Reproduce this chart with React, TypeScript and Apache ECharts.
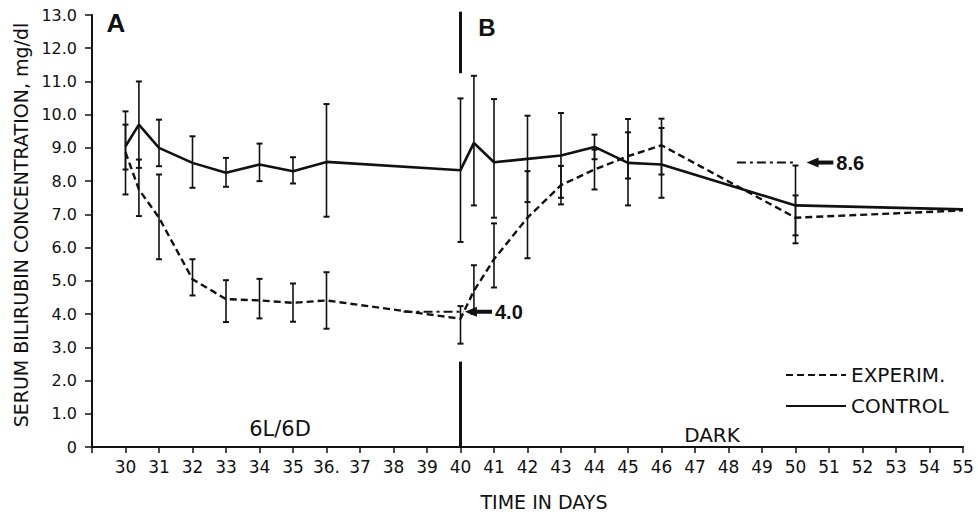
import React, { useEffect, useRef } from 'react';
import * as echarts from 'echarts';

// ---- data ----
const days = [30, 30.4, 31, 32, 33, 34, 35, 36, 40, 40.4, 41, 42, 43, 44, 45, 46, 50, 55];

const controlValues = [9.05, 9.7, 9.0, 8.55, 8.25, 8.5, 8.3, 8.58, 8.33, 9.15, 8.57, 8.67, 8.77, 9.03, 8.55, 8.5, 7.27, 7.15];
const controlLow = [8.35, 8.4, 8.45, 7.8, 7.83, 8.0, 7.93, 6.93, 6.17, 7.27, 6.9, 7.37, 7.5, 8.66, 7.27, 7.5, 6.13, null];
const controlHigh = [9.7, 11.0, 9.85, 9.35, 8.7, 9.13, 8.72, 10.32, 10.49, 11.17, 10.47, 9.97, 10.05, 9.4, 9.87, 9.88, 8.47, null];

const experimValues = [8.87, 7.75, 6.9, 5.05, 4.45, 4.41, 4.34, 4.41, 3.86, 4.7, 5.65, 6.9, 7.88, 8.35, 8.75, 9.08, 6.9, 7.12];
const experimLow = [7.6, 6.95, 5.65, 4.56, 3.76, 3.87, 3.77, 3.56, 3.11, 4.0, 4.8, 5.68, 7.3, 7.75, 8.08, 8.2, 6.37, null];
const experimHigh = [10.1, 8.65, 8.2, 5.65, 5.02, 5.06, 4.92, 5.26, 4.24, 5.47, 6.73, 8.3, 8.46, 8.95, 9.47, 9.6, 7.57, null];

const xTickDays = [30, 31, 32, 33, 34, 35, 36, 37, 38, 39, 40, 41, 42, 43, 44, 45, 46, 47, 48, 49, 50, 51, 52, 53, 54, 55];
const xTickLabels = ['30', '31', '32', '33', '34', '35', '36.', '37', '38', '39', '40', '41', '42', '43', '44', '45', '46', '47', '48', '49', '50', '51', '52', '53', '54', '55'];
const yTickValues = [0, 1, 2, 3, 4, 5, 6, 7, 8, 9, 10, 11, 12, 13];
const yTickLabels = ['0', '1.0', '2.0', '3.0', '4.0', '5.0', '6.0', '7.0', '8.0', '9.0', '10.0', '11.0', '12.0', '13.0'];

// callouts: dash-dot reference line and arrow pointing at a level
const calloutLabels = ['4.0', '8.6'];
const calloutLevels = [4.07, 8.56];
const calloutLineFrom = [38.3, 48.25];
const calloutLineTo = [40.1, 50.0];
const calloutArrowTip = [40.13, 50.33];
const calloutArrowTail = [40.94, 51.13];

// divider between phase A and phase B
const dividerDay = 40;
const dividerLow = [0, 11.25];
const dividerHigh = [2.57, 13.1];

const INK = '#111';
const FONT = '"DejaVu Sans", sans-serif';
const BOLD_FONT = '"Liberation Sans", Arial, sans-serif';

function errData(lo: (number | null)[], hi: (number | null)[]) {
  const out: number[][] = [];
  days.forEach((d, i) => {
    if (lo[i] != null && hi[i] != null) out.push([d, lo[i] as number, hi[i] as number]);
  });
  return out;
}

function renderErr(params: any, api: any) {
  const x = api.value(0);
  const a = api.coord([x, api.value(1)]);
  const b = api.coord([x, api.value(2)]);
  const cap = 3;
  const st = { stroke: INK, lineWidth: 1.6 };
  const cs = { stroke: INK, lineWidth: 2 };
  return {
    type: 'group',
    children: [
      { type: 'line', shape: { x1: a[0], y1: a[1], x2: b[0], y2: b[1] }, style: st },
      { type: 'line', shape: { x1: a[0] - cap, y1: a[1], x2: a[0] + cap, y2: a[1] }, style: cs },
      { type: 'line', shape: { x1: b[0] - cap, y1: b[1], x2: b[0] + cap, y2: b[1] }, style: cs },
    ],
  };
}

function renderDivider(params: any, api: any) {
  const x = api.value(0);
  const a = api.coord([x, api.value(1)]);
  const b = api.coord([x, api.value(2)]);
  return {
    type: 'line',
    shape: { x1: a[0], y1: a[1], x2: b[0], y2: b[1] },
    style: { stroke: INK, lineWidth: 3 },
  };
}

function renderCallout(params: any, api: any) {
  const i = params.dataIndex;
  const v = calloutLevels[i];
  const p0 = api.coord([calloutLineFrom[i], v]);
  const p1 = api.coord([calloutLineTo[i], v]);
  const tip = api.coord([calloutArrowTip[i], v]);
  const tail = api.coord([calloutArrowTail[i], v]);
  return {
    type: 'group',
    children: [
      { type: 'line', shape: { x1: p0[0], y1: p0[1], x2: p1[0], y2: p1[1] }, style: { stroke: INK, lineWidth: 2, lineDash: [9, 4, 3, 4] } },
      { type: 'line', shape: { x1: tip[0] + 9, y1: tip[1], x2: tail[0], y2: tail[1] }, style: { stroke: INK, lineWidth: 4 } },
      { type: 'polygon', shape: { points: [[tip[0], tip[1]], [tip[0] + 12, tip[1] - 5], [tip[0] + 12, tip[1] + 5]] }, style: { fill: INK } },
      { type: 'text', x: tail[0] + 3, y: tail[1], style: { text: calloutLabels[i], fontFamily: BOLD_FONT, fontWeight: 'bold', fontSize: 20, fill: INK, align: 'left', verticalAlign: 'middle' } },
    ],
  };
}

export default function App() {
  const ref = useRef<HTMLDivElement>(null);
  useEffect(() => {
    if (!ref.current) return;
    const chart = echarts.init(ref.current, null, { renderer: 'svg' });
    const option: any = {
      animation: false,
      backgroundColor: '#fff',
      grid: { left: 92, right: 15, top: 15, bottom: 69, containLabel: false },
      xAxis: {
        type: 'value',
        min: 29,
        max: 55,
        interval: 1,
        axisLine: { show: true, onZero: false, lineStyle: { color: INK, width: 2 } },
        axisTick: { show: true, length: 6, lineStyle: { color: INK, width: 1.5 } },
        splitLine: { show: false },
        axisLabel: {
          color: INK,
          fontFamily: FONT,
          fontSize: 17,
          margin: 11,
          formatter: (v: number) => {
            const k = xTickDays.indexOf(Math.round(v));
            return k >= 0 ? xTickLabels[k] : '';
          },
        },
      },
      yAxis: {
        type: 'value',
        min: 0,
        max: 13,
        interval: 1,
        axisLine: { show: true, lineStyle: { color: INK, width: 2 } },
        axisTick: { show: true, length: 7, lineStyle: { color: INK, width: 1.5 } },
        splitLine: { show: false },
        axisLabel: {
          color: INK,
          fontFamily: FONT,
          fontSize: 16,
          margin: 15,
          formatter: (v: number) => {
            const k = yTickValues.indexOf(Math.round(v));
            return k >= 0 ? yTickLabels[k] : '';
          },
        },
      },
      legend: {
        data: ['EXPERIM.', 'CONTROL'],
        orient: 'vertical',
        left: 780,
        top: 360,
        itemWidth: 60,
        itemHeight: 12,
        itemGap: 11,
        itemStyle: { opacity: 0 },
        textStyle: { color: INK, fontFamily: FONT, fontSize: 20 },
      },
      series: [
        {
          name: 'EXPERIM.',
          type: 'line',
          data: days.map((d, i) => [d, experimValues[i]]),
          symbol: 'none',
          itemStyle: { color: INK },
          lineStyle: { color: INK, width: 2.4, type: [7, 4] },
          z: 3,
        },
        {
          name: 'CONTROL',
          type: 'line',
          data: days.map((d, i) => [d, controlValues[i]]),
          symbol: 'none',
          itemStyle: { color: INK },
          lineStyle: { color: INK, width: 2.6, type: 'solid' },
          z: 3,
        },
        {
          name: 'EXPERIM. error',
          type: 'custom',
          data: errData(experimLow, experimHigh),
          encode: { x: 0, y: [1, 2] },
          renderItem: renderErr,
          z: 2,
        },
        {
          name: 'CONTROL error',
          type: 'custom',
          data: errData(controlLow, controlHigh),
          encode: { x: 0, y: [1, 2] },
          renderItem: renderErr,
          z: 2,
        },
        {
          name: 'divider',
          type: 'custom',
          data: dividerLow.map((lo, i) => [dividerDay, lo, dividerHigh[i]]),
          encode: { x: 0, y: [1, 2] },
          renderItem: renderDivider,
          clip: false,
          z: 4,
        },
        {
          name: 'callouts',
          type: 'custom',
          data: calloutLevels.map((v, i) => [calloutLineFrom[i], v, calloutArrowTail[i]]),
          encode: { x: [0, 2], y: 1 },
          renderItem: renderCallout,
          clip: false,
          z: 4,
        },
      ],
      graphic: [
        { type: 'text', x: 116, y: 23, style: { text: 'A', fontFamily: BOLD_FONT, fontWeight: 'bold', fontSize: 26, fill: INK, align: 'center', verticalAlign: 'middle' } },
        { type: 'text', x: 487, y: 27, style: { text: 'B', fontFamily: BOLD_FONT, fontWeight: 'bold', fontSize: 24, fill: INK, align: 'center', verticalAlign: 'middle' } },
        { type: 'text', x: 280, y: 429, style: { text: '6L/6D', fontFamily: FONT, fontSize: 21, fill: INK, align: 'center', verticalAlign: 'middle' } },
        { type: 'text', x: 712, y: 435, style: { text: 'DARK', fontFamily: FONT, fontSize: 20, fill: INK, align: 'center', verticalAlign: 'middle' } },
        { type: 'text', x: 544, y: 502, style: { text: 'TIME IN DAYS', fontFamily: FONT, fontSize: 19, fill: INK, align: 'center', verticalAlign: 'middle' } },
        { type: 'text', x: 21, y: 225, rotation: Math.PI / 2, style: { text: 'SERUM BILIRUBIN CONCENTRATION, mg/dl', fontFamily: FONT, fontSize: 19, fill: INK, align: 'center', verticalAlign: 'middle' } },
      ],
    };
    chart.setOption(option);
    return () => chart.dispose();
  }, []);
  return (
    <div
      ref={ref}
      style={{ position: 'fixed', left: 0, top: 0, width: 978, height: 516, background: '#fff' }}
    />
  );
}
